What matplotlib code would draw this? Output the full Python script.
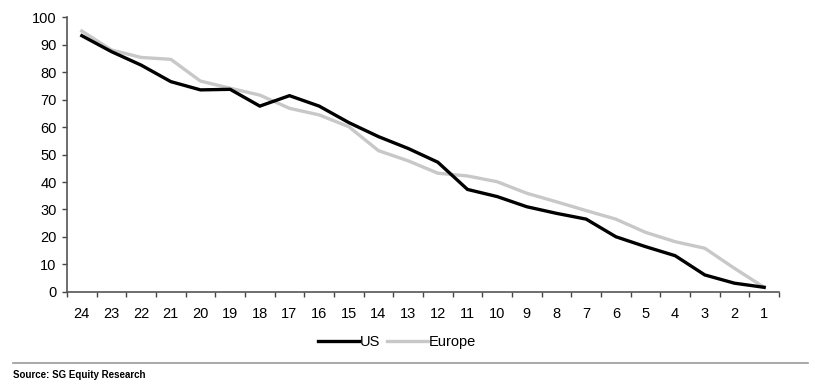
import numpy as np
import matplotlib.pyplot as plt
from matplotlib.lines import Line2D

plt.rcParams['font.family'] = ['Liberation Sans', 'DejaVu Sans']

# categories (months to go), left to right
labels = [str(n) for n in range(24, 0, -1)]

us = [93.2, 87.4, 82.5, 76.5, 73.5, 73.7, 67.6, 71.4, 67.6, 61.6, 56.5, 52.2,
      47.2, 37.3, 34.7, 31.0, 28.6, 26.5, 20.1, 16.5, 13.2, 6.2, 3.2, 1.7]
europe = [94.9, 88.0, 85.3, 84.6, 76.7, 74.1, 71.6, 66.8, 64.4, 60.1, 51.4, 47.7,
          43.2, 42.2, 40.1, 35.9, 32.8, 29.6, 26.5, 21.7, 18.3, 15.9, 8.6, 1.7]

fig = plt.figure(figsize=(8.15, 3.84), dpi=100)
ax = fig.add_axes([0.0822, 0.2396, 0.8736, 0.7161])

x = np.arange(len(labels))
ax.plot(x, europe, color='#c8c8c8', lw=2.4, solid_joinstyle='miter')
ax.plot(x, us, color='black', lw=2.4, solid_joinstyle='miter')

ax.set_xlim(-0.5, len(labels) - 0.5)
ax.set_ylim(0, 100)
ax.set_yticks(range(0, 101, 10))
ax.set_xticks(x)
ax.set_xticklabels(labels)
ax.set_xticks(np.arange(-0.5, len(labels), 1), minor=True)
ax.tick_params(axis='x', which='major', length=0, pad=11, labelsize=10.5)
ax.tick_params(axis='x', which='minor', length=3.5, width=1, color='#444444', direction='out')
ax.tick_params(axis='y', length=3.5, width=1, color='#444444', labelsize=10.5, pad=4)

for s in ['top', 'right']:
    ax.spines[s].set_visible(False)
for s in ['left', 'bottom']:
    ax.spines[s].set_color('#555555')
    ax.spines[s].set_linewidth(1.2)

handles = [Line2D([], [], color='black', lw=2.4),
           Line2D([], [], color='#c8c8c8', lw=2.4)]
fig.legend(handles, ['US', 'Europe'], loc='center', bbox_to_anchor=(0.487, 0.11),
           ncol=2, frameon=False, fontsize=10.5, handlelength=2.8,
           handletextpad=0.05, columnspacing=0.5)

fig.add_artist(Line2D([0.016, 0.992], [0.055, 0.055], color='#999999', lw=1.2))
fig.text(0.016, 0.023, 'Source: SG Equity Research', fontsize=7, fontweight='bold',
         va='center', ha='left')

fig.savefig('out.png', dpi=100)
